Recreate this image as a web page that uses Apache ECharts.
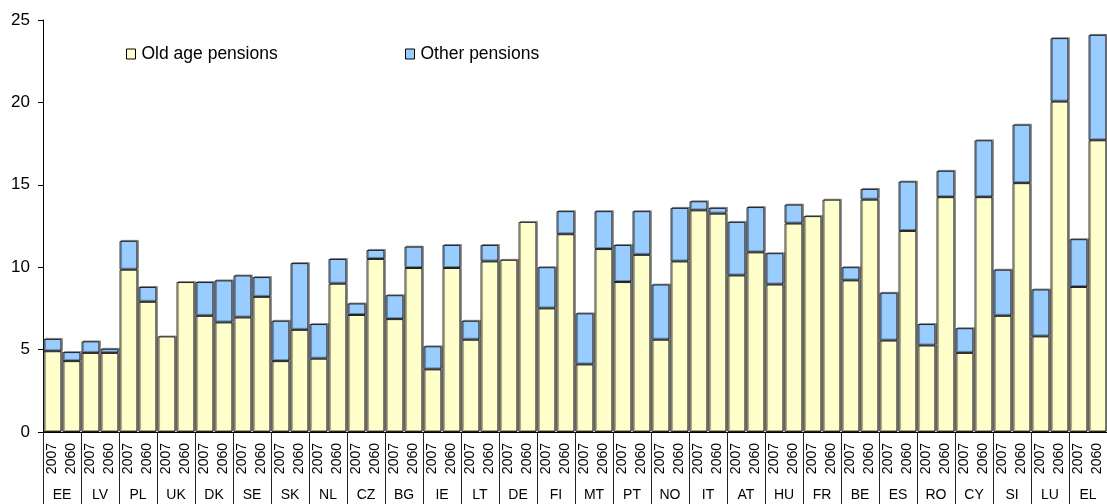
<!DOCTYPE html>
<html>
<head>
<meta charset="utf-8">
<script src="https://cdn.jsdelivr.net/npm/echarts@6/dist/echarts.min.js"></script>
<style>
  html, body { margin: 0; padding: 0; background: #fff; }
  #chart { width: 1107px; height: 504px; }
</style>
</head>
<body>
<div id="chart"></div>
<script>
// countries, two bars each (2007, 2060)
const countries = ["EE", "LV", "PL", "UK", "DK", "SE", "SK", "NL", "CZ", "BG", "IE", "LT", "DE", "FI",
    "MT", "PT", "NO", "IT", "AT", "HU", "FR", "BE", "ES", "RO", "CY", "SI", "LU", "EL"];
const years = ["2007", "2060"];

// % of GDP, order: EE07, EE60, LV07, LV60, ...
const old_age = [4.9, 4.3, 4.8, 4.8, 9.85, 7.9, 5.8, 9.1, 7.05, 6.65, 6.95, 8.2, 4.3, 6.2,
    4.45, 9.0, 7.1, 10.5, 6.85, 9.95, 3.8, 9.95, 5.6, 10.35, 10.45, 12.75, 7.5, 12.0,
    4.1, 11.1, 9.1, 10.75, 5.6, 10.35, 13.45, 13.25, 9.5, 10.9, 8.95, 12.65, 13.1, 14.1,
    9.2, 14.1, 5.55, 12.2, 5.25, 14.25, 4.8, 14.25, 7.05, 15.1, 5.8, 20.05, 8.8, 17.7];
const other = [0.75, 0.55, 0.7, 0.25, 1.75, 0.9, 0, 0, 2.05, 2.55, 2.55, 1.2, 2.45, 4.05,
    2.1, 1.5, 0.7, 0.55, 1.45, 1.3, 1.4, 1.4, 1.15, 1.0, 0, 0, 2.5, 1.4,
    3.1, 2.3, 2.25, 2.65, 3.35, 3.25, 0.55, 0.35, 3.25, 2.75, 1.9, 1.15, 0, 0,
    0.8, 0.65, 2.9, 3.0, 1.3, 1.6, 1.5, 3.45, 2.8, 3.55, 2.85, 3.85, 2.9, 6.4];

let cats = [];
for (let c of countries) for (let y of years) cats.push(c + " " + y);

const font = "Liberation Sans, Arial, sans-serif";
let myChart = echarts.init(document.getElementById("chart"));

let bar_style = function (fill) {
    return {
        color: fill,
        borderColor: "#222",
        borderWidth: 1,
        shadowColor: "rgba(0,0,0,0.35)",
        shadowOffsetX: 1.5,
        shadowOffsetY: -1,
    };
};

let legend_item = function (name, left) {
    return {
        left: left, top: 40,
        icon: "rect",
        itemWidth: 9, itemHeight: 10, itemGap: 5,
        data: [name],
        textStyle: { fontFamily: font, fontSize: 17.5, color: "#000", padding: [0, 0, 0, 1] },
        itemStyle: { borderColor: "#000", borderWidth: 1, shadowColor: "transparent" },
    };
};

let option = {
    animation: false,
    backgroundColor: "#fff",
    textStyle: { fontFamily: font },
    grid: { left: 43, top: 20, width: 1070, bottom: 72 },
    legend: [legend_item("Old age pensions", 121), legend_item("Other pensions", 400)],
    xAxis: [{
        type: "category",
        data: cats,
        position: "bottom",
        axisLine: { lineStyle: { color: "#000", width: 1 } },
        axisTick: { show: false },
        axisLabel: {
            interval: 0, rotate: 90, margin: 11,
            fontFamily: font, fontSize: 14, color: "#000",
            formatter: function (v) { return v.split(" ")[1]; },
        },
    }, {
        type: "category",
        data: countries,
        position: "bottom",
        axisLine: { show: false },
        axisTick: { show: true, length: 72, lineStyle: { color: "#222", width: 1 } },
        axisLabel: {
            interval: 0, margin: 56,
            fontFamily: font, fontSize: 14, color: "#000",
        },
    }],
    yAxis: {
        type: "value",
        min: 0, max: 25, interval: 5,
        axisLine: { show: true, lineStyle: { color: "#000" } },
        axisTick: { show: true, length: 5, lineStyle: { color: "#000" } },
        splitLine: { show: false },
        axisLabel: { fontFamily: font, fontSize: 17, color: "#000", margin: 13 },
    },
    series: [{
        name: "Old age pensions",
        type: "bar",
        stack: "p",
        xAxisIndex: 0,
        barCategoryGap: "6%",
        data: old_age,
        itemStyle: bar_style("#FFFFCC"),
    }, {
        name: "Other pensions",
        type: "bar",
        stack: "p",
        xAxisIndex: 0,
        barCategoryGap: "6%",
        data: other.map(v => v === 0 ? null : v),
        itemStyle: bar_style("#99CCFF"),
    }],
};
myChart.setOption(option);
</script>
</body>
</html>
